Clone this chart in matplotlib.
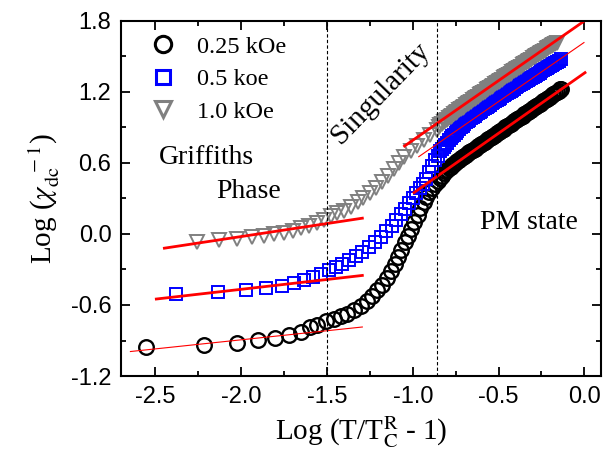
import matplotlib
matplotlib.use("Agg")
import matplotlib.pyplot as plt
from matplotlib.ticker import MultipleLocator

plt.rcParams['font.family'] = ['Liberation Serif', 'DejaVu Serif']
plt.rcParams['mathtext.fontset'] = 'stix'
plt.rcParams['axes.unicode_minus'] = False

# 0.25 kOe
x_025 = [-2.553, -2.215, -2.025, -1.905, -1.804, -1.721, -1.653, -1.600, -1.556, -1.508,
         -1.459, -1.420, -1.381, -1.341, -1.304, -1.265, -1.236, -1.206, -1.178, -1.153,
         -1.128, -1.105, -1.085, -1.066, -1.047, -1.027, -1.008, -0.990, -0.972, -0.955,
         -0.937, -0.920, -0.903, -0.886, -0.870, -0.855,
         -0.84, -0.83, -0.82, -0.81, -0.80, -0.79, -0.78, -0.77, -0.76, -0.75,
         -0.74, -0.73, -0.72, -0.71, -0.70, -0.69, -0.68, -0.67, -0.66, -0.65,
         -0.64, -0.63, -0.62, -0.61, -0.60, -0.59, -0.58, -0.57, -0.56, -0.55,
         -0.54, -0.53, -0.52, -0.51, -0.50, -0.49, -0.48, -0.47, -0.46, -0.45,
         -0.44, -0.43, -0.42, -0.41, -0.40, -0.39, -0.38, -0.37, -0.36, -0.35,
         -0.34, -0.33, -0.32, -0.31, -0.30, -0.29, -0.28, -0.27, -0.26, -0.25,
         -0.24, -0.23, -0.22, -0.21, -0.20, -0.19, -0.18, -0.17, -0.16, -0.15,
         -0.14, -0.135]
y_025 = [-0.958, -0.934, -0.920, -0.898, -0.880, -0.857, -0.832, -0.790, -0.766, -0.738,
         -0.716, -0.696, -0.673, -0.640, -0.606, -0.564, -0.522, -0.477, -0.429, -0.373,
         -0.317, -0.258, -0.196, -0.135, -0.072, -0.017, 0.040, 0.100, 0.160, 0.215,
         0.265, 0.310, 0.350, 0.388, 0.420, 0.447,
         0.472, 0.492, 0.510, 0.526, 0.540, 0.554, 0.567, 0.580, 0.592, 0.604,
         0.615, 0.626, 0.637, 0.648, 0.658, 0.668, 0.678, 0.688, 0.698, 0.708,
         0.718, 0.728, 0.738, 0.748, 0.758, 0.768, 0.778, 0.788, 0.798, 0.808,
         0.818, 0.828, 0.838, 0.848, 0.858, 0.868, 0.878, 0.888, 0.898, 0.908,
         0.918, 0.928, 0.938, 0.948, 0.958, 0.968, 0.978, 0.988, 0.998, 1.008,
         1.018, 1.028, 1.038, 1.048, 1.058, 1.068, 1.078, 1.088, 1.098, 1.108,
         1.118, 1.128, 1.138, 1.148, 1.158, 1.168, 1.178, 1.188, 1.198, 1.208,
         1.218, 1.223]

# 0.5 kOe
x_05 = [-2.380, -2.134, -1.973, -1.856, -1.765, -1.695, -1.634, -1.582, -1.537, -1.490,
        -1.450, -1.410, -1.371, -1.333, -1.294, -1.256, -1.220, -1.186, -1.154, -1.124,
        -1.096, -1.070, -1.046, -1.023, -1.001, -0.980, -0.960, -0.941, -0.922, -0.904,
        -0.886, -0.869, -0.852,
        -0.84, -0.83, -0.82, -0.81, -0.80, -0.79, -0.78, -0.77, -0.76, -0.75,
        -0.74, -0.73, -0.72, -0.71, -0.70, -0.69, -0.68, -0.67, -0.66, -0.65,
        -0.64, -0.63, -0.62, -0.61, -0.60, -0.59, -0.58, -0.57, -0.56, -0.55,
        -0.54, -0.53, -0.52, -0.51, -0.50, -0.49, -0.48, -0.47, -0.46, -0.45,
        -0.44, -0.43, -0.42, -0.41, -0.40, -0.39, -0.38, -0.37, -0.36, -0.35,
        -0.34, -0.33, -0.32, -0.31, -0.30, -0.29, -0.28, -0.27, -0.26, -0.25,
        -0.24, -0.23, -0.22, -0.21, -0.20, -0.19, -0.18, -0.17, -0.16, -0.15,
        -0.137]
y_05 = [-0.508, -0.494, -0.471, -0.457, -0.438, -0.415, -0.390, -0.365, -0.338, -0.308,
        -0.280, -0.251, -0.221, -0.188, -0.152, -0.112, -0.070, -0.025, 0.022, 0.070,
        0.118, 0.165, 0.211, 0.256, 0.300, 0.343, 0.384, 0.424, 0.463, 0.520,
        0.570, 0.620, 0.660,
        0.700, 0.718, 0.735, 0.752, 0.770, 0.788, 0.805, 0.822, 0.838, 0.854,
        0.870, 0.885, 0.900, 0.914, 0.928, 0.940, 0.952, 0.964, 0.975, 0.986,
        0.997, 1.008, 1.019, 1.030, 1.040, 1.050, 1.060, 1.070, 1.080, 1.090,
        1.100, 1.110, 1.120, 1.130, 1.140, 1.149, 1.159, 1.168, 1.178, 1.187,
        1.197, 1.206, 1.216, 1.225, 1.235, 1.244, 1.253, 1.262, 1.271, 1.280,
        1.289, 1.298, 1.307, 1.316, 1.325, 1.334, 1.343, 1.352, 1.361, 1.370,
        1.379, 1.388, 1.397, 1.406, 1.415, 1.424, 1.433, 1.442, 1.451, 1.460,
        1.472]

# 1.0 kOe
x_10 = [-2.258, -2.132, -2.023, -1.938, -1.870, -1.808, -1.748, -1.701, -1.653, -1.605,
        -1.560, -1.517, -1.478, -1.440, -1.400, -1.360, -1.320, -1.290, -1.250, -1.215,
        -1.180, -1.145, -1.110, -1.080, -1.050, -1.013, -0.974, -0.936, -0.897, -0.860,
        -0.85, -0.84, -0.83, -0.82, -0.81, -0.80, -0.79, -0.78, -0.77, -0.76,
        -0.75, -0.74, -0.73, -0.72, -0.71, -0.70, -0.69, -0.68, -0.67, -0.66,
        -0.65, -0.64, -0.63, -0.62, -0.61, -0.60, -0.59, -0.58, -0.57, -0.56,
        -0.55, -0.54, -0.53, -0.52, -0.51, -0.50, -0.49, -0.48, -0.47, -0.46,
        -0.45, -0.44, -0.43, -0.42, -0.41, -0.40, -0.39, -0.38, -0.37, -0.36,
        -0.35, -0.34, -0.33, -0.32, -0.31, -0.30, -0.29, -0.28, -0.27, -0.26,
        -0.25, -0.24, -0.23, -0.22, -0.21, -0.20, -0.19, -0.18, -0.17, -0.16]
y_10 = [-0.073, -0.056, -0.045, -0.028, -0.017, -0.003, 0.011, 0.028, 0.048, 0.067,
        0.090, 0.118, 0.150, 0.180, 0.190, 0.225, 0.265, 0.300, 0.345, 0.390,
        0.440, 0.490, 0.545, 0.595, 0.645, 0.700, 0.745, 0.790, 0.835, 0.880,
        0.898, 0.915, 0.928, 0.940, 0.952, 0.963, 0.975, 0.986, 0.997, 1.008,
        1.019, 1.030, 1.041, 1.052, 1.063, 1.074, 1.085, 1.095, 1.106, 1.116,
        1.127, 1.137, 1.148, 1.158, 1.169, 1.179, 1.190, 1.200, 1.210, 1.220,
        1.231, 1.241, 1.251, 1.261, 1.272, 1.282, 1.292, 1.302, 1.312, 1.322,
        1.332, 1.342, 1.352, 1.362, 1.372, 1.382, 1.392, 1.401, 1.411, 1.421,
        1.431, 1.441, 1.450, 1.460, 1.470, 1.480, 1.489, 1.499, 1.508, 1.518,
        1.527, 1.537, 1.546, 1.556, 1.565, 1.575, 1.584, 1.594, 1.603, 1.613]

# linear fits: (x0, x1), (y0, y1)
fit_low_025 = ([-2.646, -1.294], [-0.993, -0.786])
fit_low_05 = ([-2.495, -1.294], [-0.550, -0.351])
fit_low_10 = ([-2.448, -1.294], [-0.121, 0.132])
fit_high_025 = ([-0.993, 0.004], [0.348, 1.360])
fit_high_05 = ([-0.965, -0.002], [0.651, 1.614])
fit_high_10 = ([-1.048, 0.004], [0.741, 1.800])

boundaries = [-1.5, -0.86]

fig = plt.figure(figsize=(6.15, 4.66), dpi=100)
ax = fig.add_axes([0.197, 0.193, 0.781, 0.763])

ax.plot(x_025, y_025, 'o', ms=10.5, mfc='none', mec='black', mew=1.7, label='0.25 kOe')
ax.plot(x_05, y_05, 's', ms=9, mfc='none', mec='#0000ff', mew=1.4, label='0.5 koe')
ax.plot(x_10, y_10, 'v', ms=10.5, mfc='none', mec='#808080', mew=1.4, label='1.0 kOe')

for fx, fy in (fit_low_05, fit_low_10, fit_high_025, fit_high_10):
    ax.plot(fx, fy, '-', color='#ff0000', lw=2)
for fx, fy in (fit_low_025, fit_high_05):
    ax.plot(fx, fy, '-', color='#ff0000', lw=0.8)

for b in boundaries:
    ax.axvline(b, color='black', ls=(0, (3, 2)), lw=0.8)

ax.text(-2.205, 0.648, 'Griffiths', fontsize=20, ha='center', va='center')
ax.text(-1.96, 0.354, 'Phase', fontsize=20, ha='center', va='center')
ax.text(-1.188, 1.187, 'Singularity', fontsize=21, ha='center', va='center', rotation=46)
ax.text(-0.322, 0.093, 'PM state', fontsize=20, ha='center', va='center')

ax.set_xlim(-2.7, 0.1)
ax.set_ylim(-1.2, 1.8)
ax.xaxis.set_major_locator(MultipleLocator(0.5))
ax.xaxis.set_minor_locator(MultipleLocator(0.25))
ax.yaxis.set_major_locator(MultipleLocator(0.6))
ax.yaxis.set_minor_locator(MultipleLocator(0.3))
ax.tick_params(which='both', direction='in', top=True, right=True, width=1.3)
ax.tick_params(which='major', length=6.5, labelsize=17, pad=7)
ax.tick_params(which='minor', length=3.5)
for lab in ax.get_xticklabels() + ax.get_yticklabels():
    lab.set_family('Liberation Sans')
for sp in ax.spines.values():
    sp.set_linewidth(1.5)

ax.set_xlabel(r'Log (T/T$_{\rm C}^{\rm R}$ - 1)', fontsize=21, labelpad=5)
ax.set_ylabel(r'Log ($\chi_{\rm dc}^{\ \ -1}$)', fontsize=21, labelpad=6)

leg = ax.legend(loc='upper left', frameon=False, fontsize=17.5, numpoints=1,
                markerscale=1.12, handlelength=1.0, handletextpad=0.9,
                labelspacing=0.43, borderaxespad=0.0, bbox_to_anchor=(0.042, 0.984))
for h in leg.legend_handles:
    h.set_markeredgewidth(2.2)

fig.savefig('out.png', dpi=100)
